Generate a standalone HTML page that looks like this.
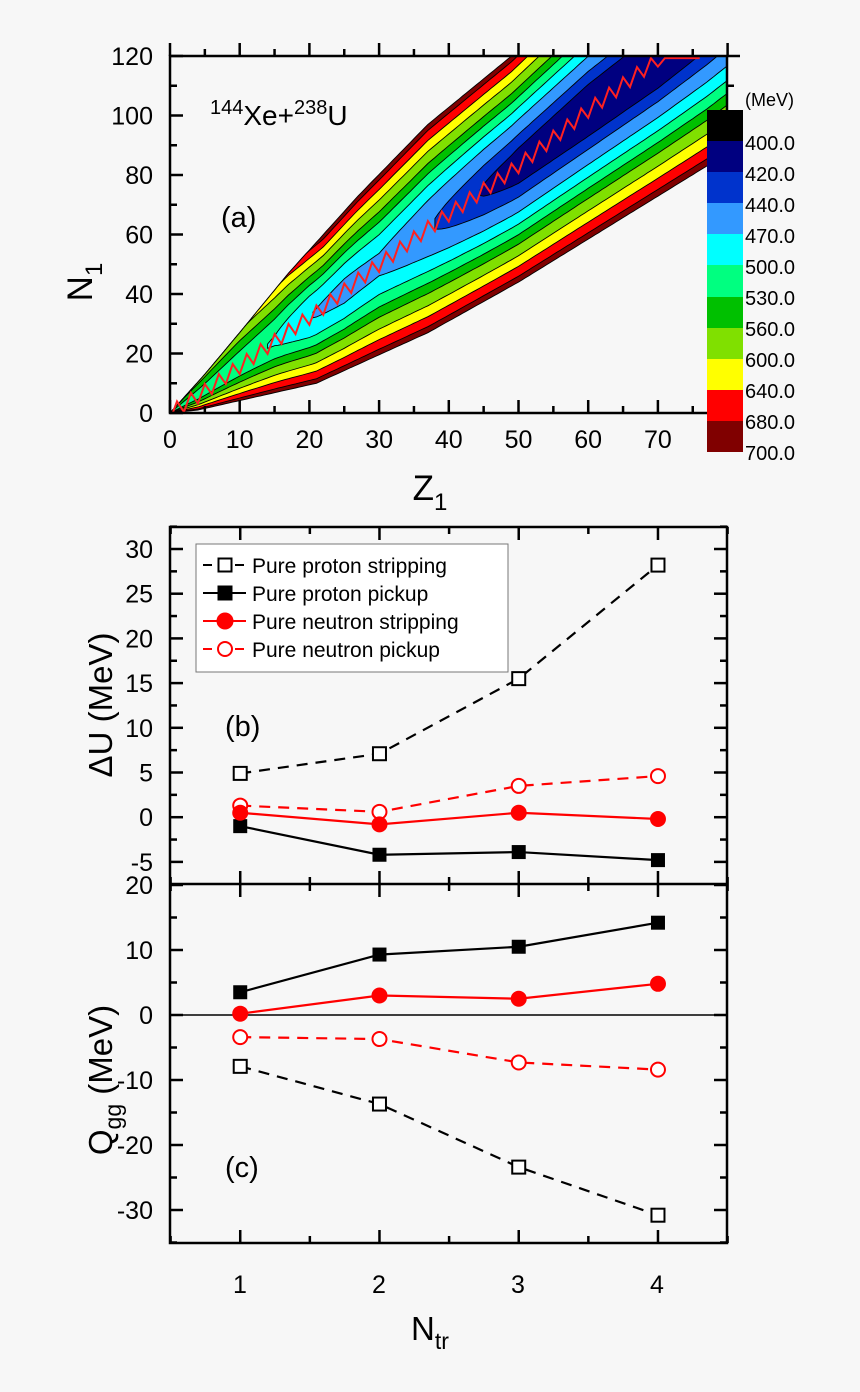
<!DOCTYPE html>
<html><head><meta charset="utf-8"><style>
html,body{margin:0;padding:0;background:#f7f7f7}
svg{display:block}
text{font-family:"Liberation Sans",Arial,sans-serif;fill:#000}
</style></head><body>
<svg id="s" width="860" height="1392" viewBox="0 0 860 1392" xmlns="http://www.w3.org/2000/svg">
<rect width="860" height="1392" fill="#f7f7f7"/>
<defs><clipPath id="cp"><rect x="170" y="56" width="557" height="357"/></clipPath></defs>
<g id="contours" clip-path="url(#cp)"></g>
<g stroke="#000" stroke-width="2.5" fill="none">
<rect x="170" y="56" width="557" height="357"/>
</g>
<g id="ticksA" stroke="#000" stroke-width="2.5"></g>
<g>
<rect x="707" y="110" width="36" height="31" fill="#000"/>
<rect x="707" y="141" width="36" height="31" fill="#000080"/>
<rect x="707" y="172" width="36" height="31" fill="#0033cc"/>
<rect x="707" y="203" width="36" height="31" fill="#3399ff"/>
<rect x="707" y="234" width="36" height="31" fill="#00ffff"/>
<rect x="707" y="265" width="36" height="32" fill="#00ff80"/>
<rect x="707" y="297" width="36" height="31" fill="#00c000"/>
<rect x="707" y="328" width="36" height="31" fill="#80e000"/>
<rect x="707" y="359" width="36" height="31" fill="#ffff00"/>
<rect x="707" y="390" width="36" height="31" fill="#ff0000"/>
<rect x="707" y="421" width="36" height="31" fill="#800000"/>
</g>
<g font-size="20">
<text x="745" y="106" font-size="18">(MeV)</text>
<text x="745" y="150">400.0</text><text x="745" y="181">420.0</text><text x="745" y="212">440.0</text>
<text x="745" y="243">470.0</text><text x="745" y="274">500.0</text><text x="745" y="305">530.0</text>
<text x="745" y="336">560.0</text><text x="745" y="367">600.0</text><text x="745" y="398">640.0</text>
<text x="745" y="429">680.0</text><text x="745" y="460">700.0</text>
</g>
<g font-size="25" text-anchor="end" id="ylabA"></g>
<g font-size="25" text-anchor="middle" id="xlabA"></g>
<text x="210" y="125" font-size="28"><tspan font-size="20" dy="-11">144</tspan><tspan dy="11">Xe+</tspan><tspan font-size="20" dy="-11">238</tspan><tspan dy="11">U</tspan></text>
<text x="221" y="227" font-size="29">(a)</text>
<text transform="translate(92,282) rotate(-90)" font-size="35" text-anchor="middle">N<tspan font-size="24" dy="10">1</tspan></text>
<text x="430" y="500" font-size="35" text-anchor="middle">Z<tspan font-size="24" dy="10">1</tspan></text>

<g stroke="#000" stroke-width="2.5" fill="none">
<rect x="170" y="527" width="557" height="716"/>
<line x1="170" y1="884" x2="727" y2="884"/>
</g>
<line x1="170" y1="1015" x2="727" y2="1015" stroke="#000" stroke-width="1.5"/>
<g id="ticksBC" stroke="#000" stroke-width="2.5"></g>
<g font-size="25" text-anchor="end" id="ylabBC"></g>
<g font-size="25" text-anchor="middle">
<text x="240" y="1293">1</text><text x="379" y="1293">2</text><text x="518" y="1293">3</text><text x="657" y="1293">4</text>
</g>
<text transform="translate(112,705) rotate(-90)" font-size="33" text-anchor="middle">ΔU (MeV)</text>
<text transform="translate(112,1080) rotate(-90)" font-size="33" text-anchor="middle">Q<tspan font-size="23" dy="9">gg</tspan><tspan dy="-9"> (MeV)</tspan></text>
<text x="430" y="1340" font-size="33" text-anchor="middle">N<tspan font-size="23" dy="9">tr</tspan></text>
<text x="225" y="736" font-size="29">(b)</text>
<text x="225" y="1177" font-size="29">(c)</text>
<g id="series"></g>
<rect x="196" y="544" width="312" height="128" fill="#fff" stroke="#777" stroke-width="1"/>
<g stroke-width="2">
<line x1="203" y1="565" x2="246" y2="565" stroke="#000" stroke-dasharray="9,7"/>
<rect x="218.5" y="558.5" width="13" height="13" fill="#fff" stroke="#000"/>
<line x1="203" y1="593" x2="246" y2="593" stroke="#000"/>
<rect x="218.5" y="586.5" width="13" height="13" fill="#000" stroke="#000"/>
<line x1="203" y1="621" x2="246" y2="621" stroke="#f00"/>
<circle cx="225" cy="621" r="7.5" fill="#f00" stroke="#f00"/>
<line x1="203" y1="649" x2="246" y2="649" stroke="#f00" stroke-dasharray="9,7"/>
<circle cx="225" cy="649" r="7" fill="#fff" stroke="#f00"/>
</g>
<g font-size="21">
<text x="252" y="573">Pure proton stripping</text>
<text x="252" y="601">Pure proton pickup</text>
<text x="252" y="629">Pure neutron stripping</text>
<text x="252" y="657">Pure neutron pickup</text>
</g>
</svg>
<script>
const NS="http://www.w3.org/2000/svg";
function el(p,tag,a,txt){const e=document.createElementNS(NS,tag);for(const k in a)e.setAttribute(k,a[k]);if(txt!==undefined)e.textContent=txt;p.appendChild(e);return e;}
function interp(tab,x){if(x<=tab[0][0])return tab[0][1];for(let i=1;i<tab.length;i++){if(x<=tab[i][0]){const a=tab[i-1],b=tab[i];return a[1]+(b[1]-a[1])*(x-a[0])/(b[0]-a[0]);}}return tab[tab.length-1][1];}
const px=z=>170+z*6.97, py=n=>413-n*2.975;
const U=[[0,0],[5,13],[10,27],[17,47],[27,73],[37,97],[49,120],[60,145],[80,185]];
const Lw=[[0,0],[4,1],[21,10],[37,27],[50,44],[77,83],[80,88]];
const V=[[0,520],[10,508],[15,497],[20,470],[25,460],[30,463],[35,448],[40,432],[45,418],[50,408],[60,400],[70,398],[80,405]];
const Eu=[[0,560],[10,590],[17,650],[22,705],[80,705]];
const El=[[0,705],[80,705]];
const P=1.7;
const levels=[[705,'#800000'],[680,'#ff0000'],[640,'#ffff00'],[600,'#80e000'],[560,'#00c000'],[530,'#00ff80'],[500,'#00ffff'],[470,'#3399ff'],[440,'#0033cc'],[420,'#000080']];
const g=document.getElementById('contours');
function tf(L,v,E){if(L>=E)return 1;return Math.pow((L-v)/(E-v),1/P);}
for(const [L,c] of levels){
  let segs=[],cur=null;
  for(let z=0;z<=80.001;z+=0.5){
    const v=interp(V,z);
    if(L>v){
      const u=interp(U,z),l=interp(Lw,z),r=(u+l)/2,h=(u-l)/2;
      const tu=tf(L,v,interp(Eu,z)),tl=tf(L,v,interp(El,z));
      if(!cur){cur=[];segs.push(cur);}cur.push([z,r+tu*h,r-tl*h]);}
    else cur=null;
  }
  for(const s of segs){
    let d='';s.forEach((p,i)=>{d+=(i?'L':'M')+px(p[0]).toFixed(1)+','+py(p[1]).toFixed(1);});
    for(let i=s.length-1;i>=0;i--)d+='L'+px(s[i][0]).toFixed(1)+','+py(s[i][2]).toFixed(1);
    d+='Z';el(g,'path',{d:d,fill:c,stroke:'#000','stroke-width':0.9});
  }
}
let d='';
for(let z=0;z<=76;z+=1){const u=interp(U,z),l=interp(Lw,z),r=(u+l)/2;const n=r+((z%2)?2.5:-2.5);
 d+=(z?'L':'M')+px(z).toFixed(1)+','+py(Math.min(n,119.3)).toFixed(1);}
el(g,'path',{d:d,fill:'none',stroke:'#ff2020','stroke-width':2});
const tA=document.getElementById('ticksA');
for(let z=0;z<=80;z+=5){const x=px(z),L=z%10?7:13;
 el(tA,'line',{x1:x,y1:413,x2:x,y2:413-L});el(tA,'line',{x1:x,y1:56,x2:x,y2:56-L});}
for(let n=0;n<=120;n+=10){const y=py(n),L=n%20?7:13;
 el(tA,'line',{x1:170,y1:y,x2:170+L,y2:y});el(tA,'line',{x1:727,y1:y,x2:727+L,y2:y});}
const yl=document.getElementById('ylabA');for(let n=0;n<=120;n+=20)el(yl,'text',{x:153,y:py(n)+9},String(n));
const xl=document.getElementById('xlabA');for(let z=0;z<=70;z+=10)el(xl,'text',{x:px(z),y:448},String(z));
const X=n=>170.6+(n-0.5)*139.25;
const Yb=v=>549+(30-v)*8.94;
const Yc=v=>1015-v*6.5;
const tB=document.getElementById('ticksBC');
for(let n=0.5;n<=4.5;n+=0.5){const x=X(n),L=(n%1===0)?13:7;
 el(tB,'line',{x1:x,y1:527,x2:x,y2:527+L});el(tB,'line',{x1:x,y1:884,x2:x,y2:884-L});
 el(tB,'line',{x1:x,y1:884,x2:x,y2:884+L});el(tB,'line',{x1:x,y1:1243,x2:x,y2:1243-L});}
for(let v=-7.5;v<=32.5;v+=2.5){const y=Yb(v),L=(v%5===0)?13:7;
 el(tB,'line',{x1:170,y1:y,x2:170+L,y2:y});el(tB,'line',{x1:727,y1:y,x2:727-L,y2:y});}
for(let v=-35;v<=20;v+=5){const y=Yc(v),L=(v%10===0)?13:7;
 el(tB,'line',{x1:170,y1:y,x2:170+L,y2:y});el(tB,'line',{x1:727,y1:y,x2:727-L,y2:y});}
const ylb=document.getElementById('ylabBC');
for(let v=-5;v<=30;v+=5)el(ylb,'text',{x:153,y:Yb(v)+9},String(v));
for(let v=-30;v<=20;v+=10)el(ylb,'text',{x:153,y:Yc(v)+9},String(v));
const sg=document.getElementById('series');
function series(vals,Y,col,dash,mk){
 const pts=vals.map((v,i)=>[X(i+1),Y(v)]);
 el(sg,'polyline',{points:pts.map(p=>p.join(',')).join(' '),fill:'none',stroke:col,'stroke-width':2.2,'stroke-dasharray':dash?'11,8':'none'});
 for(const p of pts){
  if(mk==='os')el(sg,'rect',{x:p[0]-6.5,y:p[1]-6.5,width:13,height:13,fill:'#fff',stroke:'#000','stroke-width':2});
  if(mk==='fs')el(sg,'rect',{x:p[0]-7,y:p[1]-7,width:14,height:14,fill:'#000'});
  if(mk==='fc')el(sg,'circle',{cx:p[0],cy:p[1],r:8,fill:'#f00'});
  if(mk==='oc')el(sg,'circle',{cx:p[0],cy:p[1],r:7,fill:'#fff',stroke:'#f00','stroke-width':2});
 }}
series([4.9,7.1,15.5,28.2],Yb,'#000',true,'os');
series([-1.0,-4.2,-3.9,-4.8],Yb,'#000',false,'fs');
series([1.3,0.6,3.5,4.6],Yb,'#f00',true,'oc');
series([0.5,-0.8,0.5,-0.2],Yb,'#f00',false,'fc');
series([3.5,9.3,10.5,14.2],Yc,'#000',false,'fs');
series([0.2,3.0,2.5,4.8],Yc,'#f00',false,'fc');
series([-3.4,-3.7,-7.3,-8.4],Yc,'#f00',true,'oc');
series([-7.9,-13.7,-23.4,-30.8],Yc,'#000',true,'os');
</script>
</body></html>
